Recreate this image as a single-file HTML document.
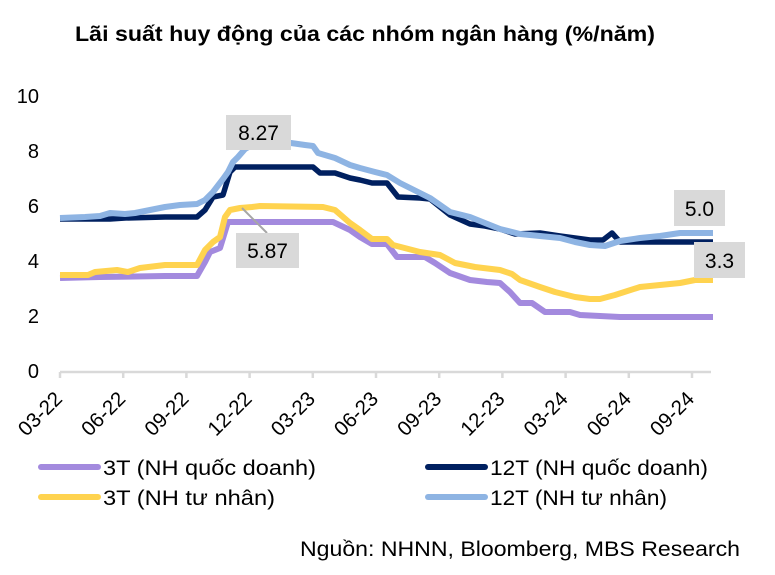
<!DOCTYPE html>
<html><head><meta charset="utf-8"><style>
html,body{margin:0;padding:0;background:#fff;}
svg{display:block;}
text{font-family:"Liberation Sans",Arial,sans-serif;fill:#000;}
</style></head><body>
<svg width="775" height="575" viewBox="0 0 775 575" xmlns="http://www.w3.org/2000/svg">
<rect width="775" height="575" fill="#fff"/>
<text x="75" y="41" font-size="21" font-weight="bold" textLength="580" lengthAdjust="spacingAndGlyphs">Lãi suất huy động của các nhóm ngân hàng (%/năm)</text>

<g font-size="20" text-anchor="end">
<text x="39" y="103">10</text>
<text x="39" y="158">8</text>
<text x="39" y="213">6</text>
<text x="39" y="268">4</text>
<text x="39" y="323">2</text>
<text x="39" y="378">0</text>
</g>

<g stroke="#d9d9d9" stroke-width="2.5" fill="none">
<line x1="60" y1="372" x2="711" y2="372"/>
<line x1="60" y1="372" x2="60" y2="378"/>
<line x1="123.2" y1="372" x2="123.2" y2="378"/>
<line x1="186.4" y1="372" x2="186.4" y2="378"/>
<line x1="249.6" y1="372" x2="249.6" y2="378"/>
<line x1="312.8" y1="372" x2="312.8" y2="378"/>
<line x1="376" y1="372" x2="376" y2="378"/>
<line x1="439.2" y1="372" x2="439.2" y2="378"/>
<line x1="502.4" y1="372" x2="502.4" y2="378"/>
<line x1="565.6" y1="372" x2="565.6" y2="378"/>
<line x1="628.8" y1="372" x2="628.8" y2="378"/>
<line x1="692" y1="372" x2="692" y2="378"/>
</g>

<g font-size="20.5" text-anchor="end">
<text transform="translate(63.5,400) rotate(-45)">03-22</text>
<text transform="translate(126.7,400) rotate(-45)">06-22</text>
<text transform="translate(189.9,400) rotate(-45)">09-22</text>
<text transform="translate(253.1,400) rotate(-45)">12-22</text>
<text transform="translate(316.3,400) rotate(-45)">03-23</text>
<text transform="translate(379.5,400) rotate(-45)">06-23</text>
<text transform="translate(442.7,400) rotate(-45)">09-23</text>
<text transform="translate(505.9,400) rotate(-45)">12-23</text>
<text transform="translate(569.1,400) rotate(-45)">03-24</text>
<text transform="translate(632.3,400) rotate(-45)">06-24</text>
<text transform="translate(695.5,400) rotate(-45)">09-24</text>
</g>

<g fill="none" stroke-linejoin="round">
<polyline stroke="#a38ade" stroke-width="6" points="60,278 100,277 165,276 197,276 205,262 210,252 220,248 228,222 333,222 350,230 360,237 372,244 387,244 397,257 425,257 435,263 450,273 470,280 487,282 500,283 510,292 520,303 532,303 545,312 570,312 580,315 620,317 713,317"/>
<polyline stroke="#002060" stroke-width="5.5" points="60,219 110,219 125,218 165,217 197,217 205,210 213,197 223,195 230,172 235,167 313,167 320,173 335,173 350,178 360,180 372,183 387,183 398,197 420,198 430,199 450,215 470,224 485,226 500,229 515,234 540,233 560,236 590,240 603,240 612,233 620,242 713,242"/>
<polyline stroke="#ffd34f" stroke-width="6" points="60,275 88,275 95,272 117,270 128,272 140,268 165,265 197,265 205,250 213,242 220,237 225,217 230,210 240,208 252,207 260,206 323,207 335,210 350,223 360,230 372,239 387,239 393,245 420,252 440,255 455,263 475,267 500,270 512,274 520,280 540,287 555,292 575,297 590,299 600,299 615,295 640,287 660,285 680,283 695,280 713,280"/>
<polyline stroke="#8eb4e3" stroke-width="6" points="60,218 85,217 100,216 110,213 125,214 135,213 150,210 165,207 180,205 197,204 205,200 213,192 223,179 228,172 233,162 238,157 245,149 252,145 291,143 305,145 313,146 318,153 335,158 350,165 360,168 375,172 387,175 400,183 420,193 430,198 450,212 470,217 485,223 500,229 520,234 530,235 560,238 575,242 590,245 605,246 620,241 640,238 660,236 680,233 713,233"/>
</g>

<line x1="242" y1="208" x2="267" y2="233" stroke="#a6a6a6" stroke-width="2"/>
<g font-size="21" text-anchor="middle">
<rect x="226" y="115" width="65" height="35" fill="#d9d9d9"/>
<text x="258.5" y="140">8.27</text>
<rect x="236" y="233" width="63" height="35" fill="#d9d9d9"/>
<text x="267.5" y="258">5.87</text>
<rect x="674" y="190" width="51" height="36" fill="#d9d9d9"/>
<text x="699.5" y="216">5.0</text>
<rect x="694" y="242" width="51" height="36" fill="#d9d9d9"/>
<text x="719.5" y="268">3.3</text>
</g>

<g stroke-width="6" stroke-linecap="round">
<line x1="41" y1="467" x2="98" y2="467" stroke="#a38ade"/>
<line x1="41" y1="497" x2="98" y2="497" stroke="#ffd34f"/>
<line x1="428" y1="467" x2="485" y2="467" stroke="#002060"/>
<line x1="428" y1="497" x2="485" y2="497" stroke="#8eb4e3"/>
</g>
<g font-size="21">
<text x="103" y="475" textLength="213" lengthAdjust="spacingAndGlyphs">3T (NH quốc doanh)</text>
<text x="103" y="505" textLength="172" lengthAdjust="spacingAndGlyphs">3T (NH tư nhân)</text>
<text x="490" y="475" textLength="218" lengthAdjust="spacingAndGlyphs">12T (NH quốc doanh)</text>
<text x="490" y="505" textLength="177" lengthAdjust="spacingAndGlyphs">12T (NH tư nhân)</text>
</g>

<text x="300" y="556" font-size="21" textLength="440" lengthAdjust="spacingAndGlyphs">Nguồn: NHNN, Bloomberg, MBS Research</text>
</svg>
</body></html>
